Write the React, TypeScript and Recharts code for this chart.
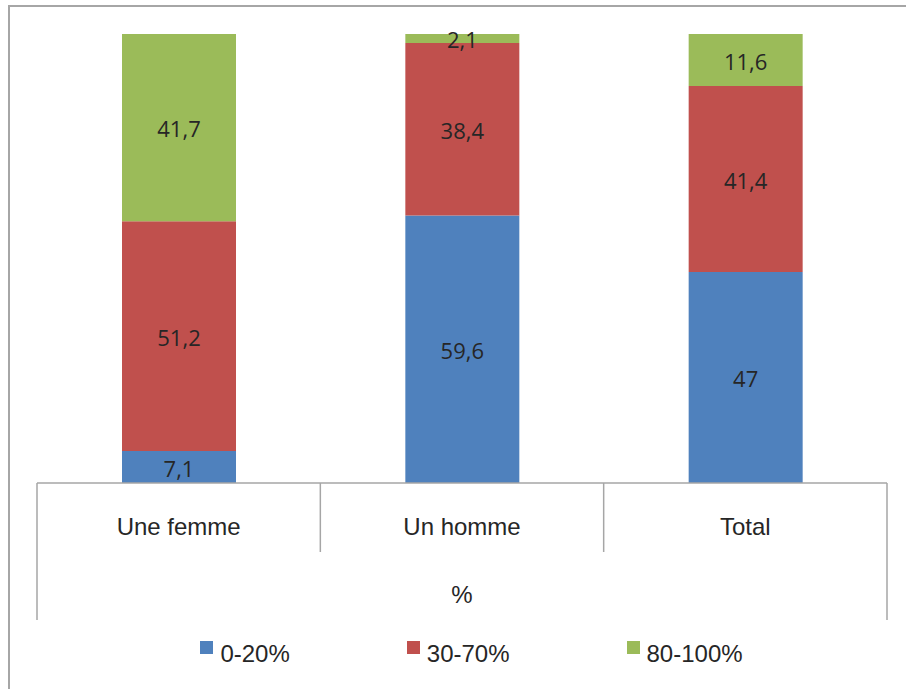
import React from 'react';
import { BarChart, Bar, XAxis, YAxis, Legend, LabelList } from 'recharts';

const categories = ['Une femme', 'Un homme', 'Total'];
const low = [7.1, 59.6, 47];
const mid = [51.2, 38.4, 41.4];
const high = [41.7, 2.1, 11.6];
const seriesNames = ['0-20%', '30-70%', '80-100%'];
const groupLabel = '%';

const COLORS = ['#4F81BD', '#C0504D', '#9BBB59'];
const W = 906;
const H = 689;
const M = { top: 34, right: 19, left: 37, bottom: 39 };
const PLOT_W = W - M.left - M.right;
const AXIS_H = 137;
const GRID = '#a6a6a6';
const TEXT = '#262626';

const data = categories.map((c, i) => ({ name: c, low: low[i], mid: mid[i], high: high[i] }));

const fmt = (v: any) => String(v).replace('.', ',');

const CategoryTick = (props: any) => {
  const { x, y, payload, index } = props;
  const bw = PLOT_W / categories.length;
  const left = x - bw / 2;
  const right = x + bw / 2;
  const last = index === categories.length - 1;
  return (
    <g>
      <line x1={left} x2={left} y1={y} y2={y + (index === 0 ? AXIS_H : 69)} stroke={GRID} strokeWidth={1.5} />
      {last && <line x1={right} x2={right} y1={y} y2={y + AXIS_H} stroke={GRID} strokeWidth={1.5} />}
      <text x={x} y={y + 52} textAnchor="middle" fontFamily="'Liberation Sans', Arial, sans-serif" fontSize={24} fill={TEXT}>
        {payload.value}
      </text>
    </g>
  );
};

const LegendContent = () => (
  <div style={{ display: 'flex', justifyContent: 'center', height: 30, lineHeight: '30px', paddingLeft: 37, fontFamily: "'Liberation Sans', Arial, sans-serif", fontSize: 24, color: TEXT, gap: 117 }}>
    {seriesNames.map((n, i) => (
      <div key={n} style={{ display: 'flex', alignItems: 'flex-start' }}>
        <div style={{ width: 13, height: 13, background: COLORS[i], marginTop: 2, marginRight: 7 }} />
        <span>{n}</span>
      </div>
    ))}
  </div>
);

const labelStyle = { fill: TEXT, fontSize: 22, fontFamily: "'Open Sans', sans-serif" };

export default function App() {
  return (
    <div style={{ position: 'absolute', left: 0, top: 0, width: W, height: H, overflow: 'hidden', background: '#fff' }}>
      <div style={{ position: 'absolute', left: 8, top: 5, width: 1000, height: 1000, border: `2px solid ${GRID}` }} />
      <div style={{ position: 'absolute', left: 0, top: 0 }}>
        <BarChart width={W} height={H} data={data} margin={M} barSize={114}>
          <XAxis
            dataKey="name"
            height={AXIS_H}
            tickSize={0}
            tickMargin={0}
            tickLine={false}
            axisLine={{ stroke: GRID, strokeWidth: 1.5 }}
            tick={<CategoryTick />}
            interval={0}
            label={{ value: groupLabel, position: 'insideBottom', offset: 17, fontSize: 24, fill: TEXT, fontFamily: "'Liberation Sans', Arial, sans-serif" }}
          />
          <YAxis hide domain={[0, 100]} allowDataOverflow />
          <Legend content={<LegendContent />} wrapperStyle={{ left: 0, width: W, bottom: 20 }} />
          <Bar dataKey="low" name={seriesNames[0]} stackId="a" fill={COLORS[0]} isAnimationActive={false}>
            <LabelList dataKey="low" position="center" formatter={fmt} style={labelStyle} dy={2} />
          </Bar>
          <Bar dataKey="mid" name={seriesNames[1]} stackId="a" fill={COLORS[1]} isAnimationActive={false}>
            <LabelList dataKey="mid" position="center" formatter={fmt} style={labelStyle} dy={2} />
          </Bar>
          <Bar dataKey="high" name={seriesNames[2]} stackId="a" fill={COLORS[2]} isAnimationActive={false}>
            <LabelList dataKey="high" position="center" formatter={fmt} style={labelStyle} dy={2} />
          </Bar>
        </BarChart>
      </div>
    </div>
  );
}
